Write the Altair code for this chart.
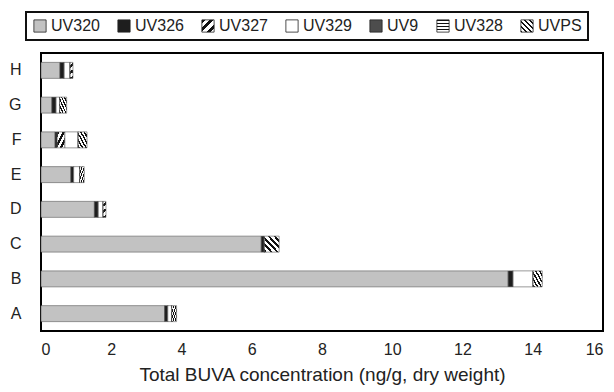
import altair as alt
import pandas as pd

# Sampling sites (bottom to top: A ... H) and BUVA components in stacking order
sites = ["A", "B", "C", "D", "E", "F", "G", "H"]
components = ["UV320", "UV326", "UV327", "UV329", "UV9", "UV328", "UVPS"]

# Concentrations, ng/g dry weight, one value per site
uv320 = [3.52, 13.30, 6.27, 1.52, 0.85, 0.40, 0.31, 0.54]
uv326 = [0.09, 0.14, 0.09, 0.11, 0.08, 0.06, 0.12, 0.12]
uv327 = [0.00, 0.00, 0.00, 0.00, 0.00, 0.22, 0.00, 0.00]
uv329 = [0.11, 0.57, 0.00, 0.14, 0.17, 0.38, 0.10, 0.17]
uv9 = [0.00, 0.00, 0.00, 0.00, 0.00, 0.00, 0.00, 0.00]
uv328 = [0.00, 0.00, 0.00, 0.00, 0.00, 0.00, 0.00, 0.00]
uvps = [0.14, 0.26, 0.42, 0.08, 0.13, 0.25, 0.20, 0.08]

x_ticks = [0, 2, 4, 6, 8, 10, 12, 14, 16]

series = {
    "UV320": uv320, "UV326": uv326, "UV327": uv327, "UV329": uv329,
    "UV9": uv9, "UV328": uv328, "UVPS": uvps,
}
rows = []
for comp_idx, comp in enumerate(components):
    for site, val in zip(sites, series[comp]):
        rows.append({"site": site, "component": comp, "value": val, "order": comp_idx})
df = pd.DataFrame(rows)


def stripes(x1, y1, x2, y2, n, ink, paper, duty):
    """Vega expression for a hard-edged striped linear gradient."""
    stops = []
    for k in range(n):
        a = k / n
        b = (k + duty) / n
        c = (k + 1) / n
        stops += [(a, ink), (b, ink), (b, paper), (c, paper)]
    stop_txt = ",".join("{offset:%.4f,color:'%s'}" % (o, col) for o, col in stops)
    return ("{gradient:'linear',x1:%g,y1:%g,x2:%g,y2:%g,stops:[%s]}"
            % (x1, y1, x2, y2, stop_txt))


fills = [
    "#c2c2c2",                                                     # UV320 fine grey
    "#1e1e1e",                                                     # UV326 dense dark
    alt.ExprRef(stripes(0, 0, 1, 1, 3, "#111111", "#ffffff", 0.5)),  # UV327 "/" bands
    "#ffffff",                                                     # UV329 open
    "#4d4d4d",                                                     # UV9 checker tone
    alt.ExprRef(stripes(0.5, 0, 0.501, 1, 4, "#111111", "#ffffff", 0.25)),  # UV328 lines
    alt.ExprRef(stripes(0, 1, 1, 0, 5, "#111111", "#ffffff", 0.45)),  # UVPS "\" hatch
]

chart = (
    alt.Chart(df)
    .mark_bar(stroke="#555555", strokeWidth=0.6)
    .encode(
        x=alt.X(
            "sum(value):Q",
            stack="zero",
            scale=alt.Scale(domain=[0, 16], nice=False),
            axis=alt.Axis(
                values=x_ticks, title="Total BUVA concentration (ng/g, dry weight)",
                labelPadding=10, titlePadding=8, ticks=False, domain=False, grid=False,
                labelFontSize=16, titleFontSize=19, titleFontWeight="normal",
            ),
        ),
        y=alt.Y(
            "site:N",
            sort=list(reversed(sites)),
            scale=alt.Scale(paddingInner=0.54, paddingOuter=0.27),
            axis=alt.Axis(
                title=None, ticks=False, domain=False, grid=False,
                labelPadding=20, labelFontSize=16,
            ),
        ),
        fill=alt.Fill(
            "component:N",
            scale=alt.Scale(domain=components, range=fills),
            legend=alt.Legend(
                title=None, orient="none", direction="horizontal", columns=7,
                legendX=-15, legendY=-41, padding=6,
                symbolType="square", symbolSize=150,
                symbolStrokeColor="#222222", symbolStrokeWidth=0.8,
                labelFontSize=16, labelOffset=3, columnPadding=16,
                strokeColor="#111111",
            ),
        ),
        order=alt.Order("order:Q"),
    )
    .properties(
        width=562, height=278,
        autosize=alt.AutoSizeParams(type="none"),
        padding={"left": 41, "top": 53, "right": 11, "bottom": 61},
    )
    .configure(font="Liberation Sans")
    .configure_view(stroke="#000000", strokeWidth=2)
    .configure_axis(labelColor="#222222", titleColor="#222222")
    .configure_legend(labelColor="#222222", strokeWidth=2)
)

chart.save("out.html", embed_options={"renderer": "svg", "actions": False})
